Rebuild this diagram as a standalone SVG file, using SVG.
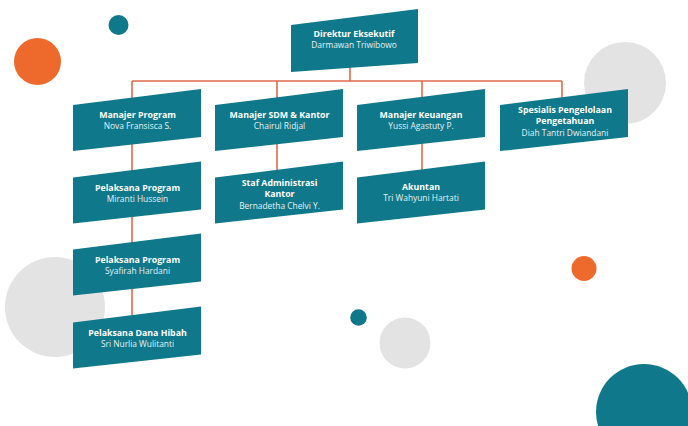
<svg xmlns="http://www.w3.org/2000/svg" width="688" height="426" viewBox="0 0 688 426">
<style>
.bg{fill:#ffffff}
.grey{fill:#e3e3e3}
.orange{fill:#ee6a2c}
.teal{fill:#0f788a}
.box{fill:#0f788a}
.line{stroke:#e0694a;stroke-width:1.6;fill:none}
text{font-family:"Open Sans","Liberation Sans",sans-serif;text-anchor:middle}
.t{font-weight:700;fill:#ffffff;font-size:8.8px}
.n{fill:#e6f3f5;font-size:8.4px}
</style>
<defs>
<polygon id="shape" points="0,16 128,0 128,48 0,62"/>
</defs>
<rect class="bg" x="0" y="0" width="688" height="426"/>
<g id="decor">
<circle class="grey" cx="625" cy="83" r="41"/>
<circle class="grey" cx="55" cy="307" r="50"/>
<circle class="grey" cx="405" cy="343" r="25.5"/>
<circle class="orange" cx="37.5" cy="61.5" r="23.5"/>
<circle class="teal" cx="118.5" cy="25" r="10"/>
<circle class="orange" cx="584" cy="268.5" r="12.5"/>
<circle class="teal" cx="358.5" cy="317.5" r="8.3"/>
<circle class="teal" cx="644" cy="412" r="48"/>
</g>
<g id="connectors">
<path class="line" d="M350,60 V81 M132,81 H562 M132,81 V330 M277,81 V175 M422,81 V175 M562,81 V100"/>
</g>
<g id="direktur">
<polygon class="box" points="291,25 418,9 418,63 291,72"/>
<text class="t" x="354" y="36.5">Direktur Eksekutif</text>
<text class="n" x="354" y="47.5">Darmawan Triwibowo</text>
</g>
<g id="manajer-program">
<use href="#shape" class="box" x="73" y="89"/>
<text class="t" x="137.5" y="117.5">Manajer Program</text>
<text class="n" x="137.5" y="128.5">Nova Fransisca S.</text>
</g>
<g id="manajer-sdm">
<use href="#shape" class="box" x="215" y="89"/>
<text class="t" x="279.5" y="117.5">Manajer SDM &amp; Kantor</text>
<text class="n" x="279.5" y="128.5">Chairul Ridjal</text>
</g>
<g id="manajer-keuangan">
<use href="#shape" class="box" x="357" y="89"/>
<text class="t" x="421" y="117.5">Manajer Keuangan</text>
<text class="n" x="421" y="128.5">Yussi Agastuty P.</text>
</g>
<g id="spesialis">
<use href="#shape" class="box" x="500" y="89"/>
<text class="t" x="565" y="112.5">Spesialis Pengelolaan</text>
<text class="t" x="565" y="124">Pengetahuan</text>
<text class="n" x="565" y="135.5">Diah Tantri Dwiandani</text>
</g>
<g id="pelaksana-program-1">
<use href="#shape" class="box" x="73" y="161.5"/>
<text class="t" x="137.5" y="190.8">Pelaksana Program</text>
<text class="n" x="137.5" y="201.8">Miranti Hussein</text>
</g>
<g id="staf-administrasi">
<use href="#shape" class="box" x="215" y="161.5"/>
<text class="t" x="279.5" y="185.5">Staf Administrasi</text>
<text class="t" x="279.5" y="197">Kantor</text>
<text class="n" x="279.5" y="208.5">Bernadetha Chelvi Y.</text>
</g>
<g id="akuntan">
<use href="#shape" class="box" x="357" y="161.5"/>
<text class="t" x="421" y="190.2">Akuntan</text>
<text class="n" x="421" y="201.2">Tri Wahyuni Hartati</text>
</g>
<g id="pelaksana-program-2">
<use href="#shape" class="box" x="73" y="233.5"/>
<text class="t" x="137.5" y="262.5">Pelaksana Program</text>
<text class="n" x="137.5" y="273.5">Syafirah Hardani</text>
</g>
<g id="pelaksana-dana-hibah">
<use href="#shape" class="box" x="73" y="306.5"/>
<text class="t" x="137.5" y="335.8">Pelaksana Dana Hibah</text>
<text class="n" x="137.5" y="346.8">Sri Nurlia Wulitanti</text>
</g>
</svg>
